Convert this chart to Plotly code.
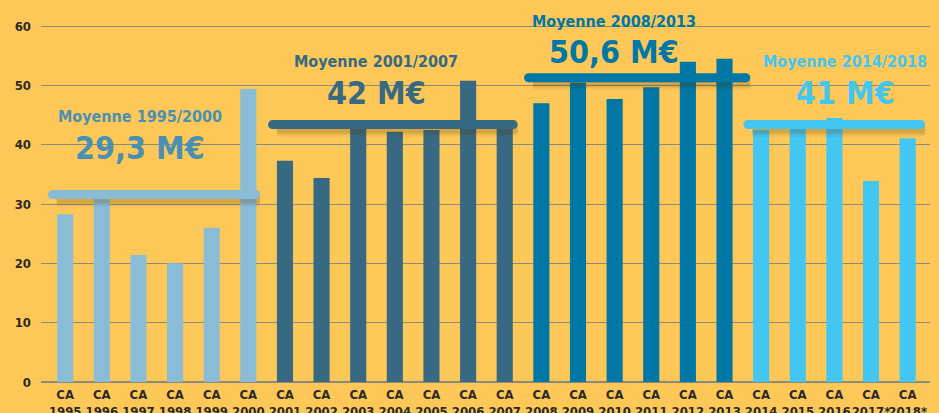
import plotly.graph_objects as go

# Chiffre d'affaires annuel (M€)
years = ["1995", "1996", "1997", "1998", "1999", "2000",
         "2001", "2002", "2003", "2004", "2005", "2006", "2007",
         "2008", "2009", "2010", "2011", "2012", "2013",
         "2014", "2015", "2016", "2017*", "2018*"]
ca = [28.3, 30.8, 21.4, 20.0, 26.0, 49.4,
      37.3, 34.4, 43.0, 42.2, 42.5, 50.8, 43.0,
      47.0, 50.5, 47.7, 49.7, 54.0, 54.5,
      42.5, 42.7, 44.5, 33.9, 41.1]

# periods: label, first/last bar index, average text, band level
period_labels = ["Moyenne 1995/2000", "Moyenne 2001/2007",
                 "Moyenne 2008/2013", "Moyenne 2014/2018"]
period_first = [0, 6, 13, 19]
period_last = [5, 12, 18, 23]
period_avg = ["29,3 M€", "42 M€", "50,6 M€", "41 M€"]
band_level = [31.6, 43.4, 51.3, 43.4]
period_colors = ["#8bbcd6", "#376a82", "#0077a4", "#43c6f2"]
text_colors = ["#4a90b2", "#376a82", "#0077a4", "#43c6f2"]

bg = "#fdc858"
font = "DejaVu Sans Condensed, Liberation Sans Narrow, sans-serif"

bar_colors = []
for i in range(len(years)):
    for k in range(4):
        if period_first[k] <= i <= period_last[k]:
            bar_colors.append(period_colors[k])

xs = list(range(len(years)))
fig = go.Figure()
fig.add_trace(go.Bar(x=xs, y=ca, marker_color=bar_colors, width=0.44,
                     marker_line_width=0, hoverinfo="skip"))

ext_left = [0.35, 0.34, 0.35, 0.36]
ext_right = [0.2, 0.23, 0.58, 0.35]
for k in range(4):
    x0 = period_first[k] - ext_left[k]
    x1 = period_last[k] + ext_right[k]
    # soft shadow under the average band
    for w, a in [(16, 0.06), (12, 0.08), (9, 0.11)]:
        fig.add_trace(go.Scatter(x=[x0 + 0.12, x1 + 0.12], y=[band_level[k] - 0.7] * 2,
                                 mode="lines", line=dict(color="rgba(90,55,0,%s)" % a, width=w),
                                 hoverinfo="skip"))
    fig.add_trace(go.Scatter(x=[x0, x1], y=[band_level[k]] * 2, mode="lines+markers",
                             line=dict(color=period_colors[k], width=9),
                             marker=dict(color=period_colors[k], size=9, line_width=0),
                             hoverinfo="skip"))

label_y = [116, 61, 21, 61]
avg_y = [148, 93, 52, 93]
label_x = [139.5, 376, 614, 845]
for k in range(4):
    fig.add_annotation(x=label_x[k], y=label_y[k], xref="paper", yref="paper",
                       xanchor="center", yanchor="middle",
                       text="<b>" + period_labels[k] + "</b>", showarrow=False,
                       font=dict(family=font, size=16, color=text_colors[k]))
    fig.add_annotation(x=label_x[k], y=avg_y[k], xref="paper", yref="paper",
                       xanchor="center", yanchor="middle",
                       text="<b>" + period_avg[k] + "</b>", showarrow=False,
                       font=dict(family=font, size=32, color=text_colors[k]))

# convert pixel positions of annotations into paper coordinates
W, H = 939, 413
L, R, T, B = 41, 9, 0, 31
for a in fig.layout.annotations:
    a.x = (a.x - L) / (W - L - R)
    a.y = 1 - (a.y - T) / (H - T - B)

fig.update_layout(
    width=W, height=H,
    margin=dict(l=L, r=R, t=T, b=B),
    paper_bgcolor=bg, plot_bgcolor=bg,
    showlegend=False,
    font=dict(family=font, color="#2b2a26"),
    xaxis=dict(range=[-0.66, 23.61], tickvals=xs,
               ticktext=["<b>CA<br>" + y + "</b>" for y in years],
               tickfont=dict(size=13), tickangle=0, showgrid=False, zeroline=False,
               ticks="", ticklabelstandoff=3, fixedrange=True, automargin=False),
    yaxis=dict(range=[0, 64.4], tickvals=[0, 10, 20, 30, 40, 50, 60],
               ticktext=["<b>%d</b>" % v for v in [0, 10, 20, 30, 40, 50, 60]],
               tickfont=dict(size=13), showgrid=True, gridcolor="#8c8a7c",
               gridwidth=1, zeroline=True, zerolinecolor="#8c8a7c", zerolinewidth=2,
               ticklabelstandoff=9, fixedrange=True, automargin=False),
)

fig.write_html("out.html", config={"displayModeBar": False},
               post_script="document.body.style.margin='0';")
